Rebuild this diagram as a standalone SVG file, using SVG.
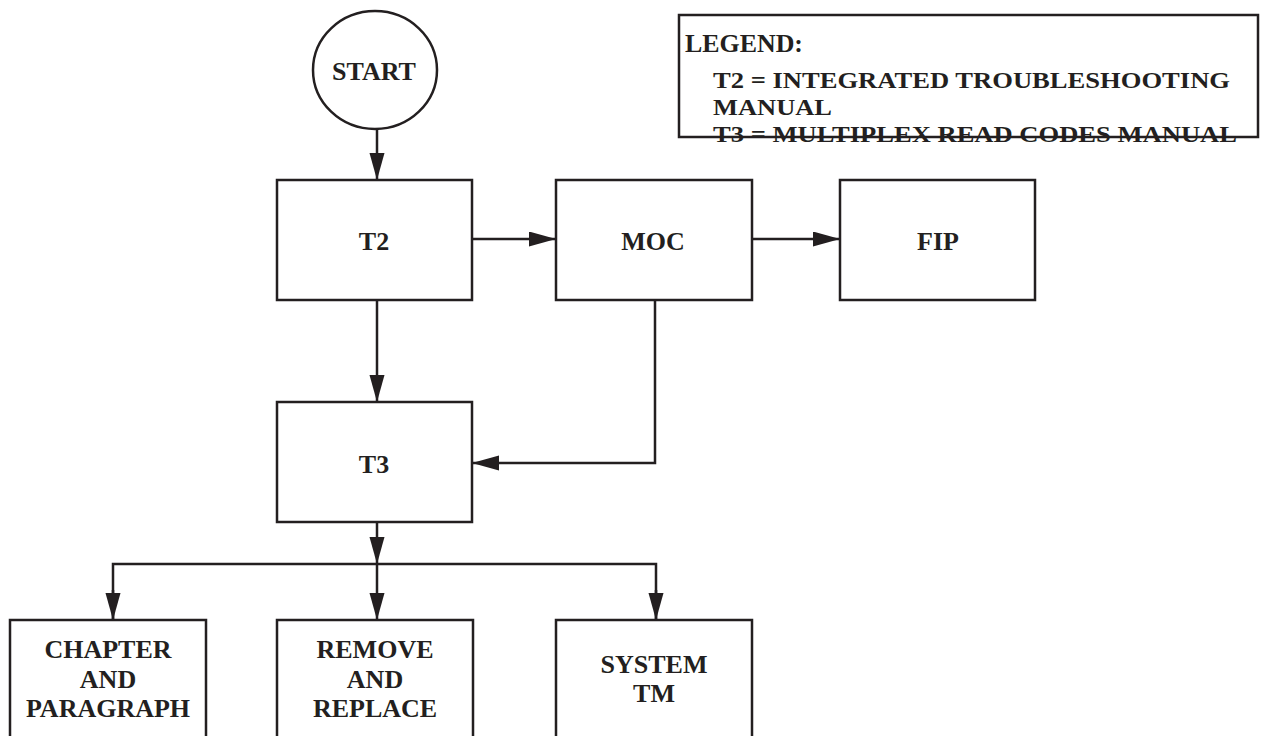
<svg xmlns="http://www.w3.org/2000/svg" width="1261" height="736" viewBox="0 0 1261 736">
<defs>
<style>
.box{fill:#fff;stroke:#231f20;stroke-width:2.5}
.ln{fill:none;stroke:#231f20;stroke-width:2.5}
.t{font-family:"Liberation Serif","Times New Roman",serif;font-weight:bold;font-size:26px;fill:#231f20}
.lg{font-size:24px}
.c{text-anchor:middle}
</style>
<marker id="ah" markerUnits="userSpaceOnUse" markerWidth="28" markerHeight="16" refX="27" refY="7.5" orient="auto">
<path d="M0,0 L27,7.5 L0,15 z" fill="#231f20"/>
</marker>
</defs>
<rect width="1261" height="736" fill="#fff"/>
<g id="connectors">
<line class="ln" x1="377" y1="129" x2="377" y2="180" marker-end="url(#ah)"/>
<line class="ln" x1="472" y1="239" x2="556" y2="239" marker-end="url(#ah)"/>
<line class="ln" x1="752" y1="239" x2="840" y2="239" marker-end="url(#ah)"/>
<line class="ln" x1="377" y1="300" x2="377" y2="402" marker-end="url(#ah)"/>
<polyline class="ln" points="655,300 655,463 472,463" marker-end="url(#ah)"/>
<line class="ln" x1="377" y1="522" x2="377" y2="564" marker-end="url(#ah)"/>
<polyline class="ln" points="113,620 113,564 656,564 656,620"/>
<line class="ln" x1="113" y1="590" x2="113" y2="620" marker-end="url(#ah)"/>
<line class="ln" x1="377" y1="564" x2="377" y2="620" marker-end="url(#ah)"/>
<line class="ln" x1="656" y1="590" x2="656" y2="620" marker-end="url(#ah)"/>
</g>
<g id="start">
<ellipse class="box" cx="375" cy="70" rx="62" ry="59"/>
<text class="t c" x="374" y="80">START</text>
</g>
<g id="t2">
<rect class="box" x="277" y="180" width="195" height="120"/>
<text class="t c" x="374" y="250">T2</text>
</g>
<g id="moc">
<rect class="box" x="556" y="180" width="196" height="120"/>
<text class="t c" x="653" y="250">MOC</text>
</g>
<g id="fip">
<rect class="box" x="840" y="180" width="195" height="120"/>
<text class="t c" x="938" y="250">FIP</text>
</g>
<g id="t3">
<rect class="box" x="277" y="402" width="195" height="120"/>
<text class="t c" x="374" y="473">T3</text>
</g>
<g id="chapter">
<rect class="box" x="10" y="620" width="196" height="130"/>
<text class="t c" x="108" y="658">CHAPTER</text>
<text class="t c" x="108" y="688">AND</text>
<text class="t c" x="108" y="717">PARAGRAPH</text>
</g>
<g id="remove">
<rect class="box" x="277" y="620" width="196" height="130"/>
<text class="t c" x="375" y="658">REMOVE</text>
<text class="t c" x="375" y="688">AND</text>
<text class="t c" x="375" y="717">REPLACE</text>
</g>
<g id="system">
<rect class="box" x="556" y="620" width="196" height="130"/>
<text class="t c" x="654" y="673">SYSTEM</text>
<text class="t c" x="654" y="702">TM</text>
</g>
<g id="legend">
<rect class="box" x="679" y="15" width="579" height="122" stroke-width="2"/>
<text class="t" x="685" y="52" textLength="118" lengthAdjust="spacingAndGlyphs">LEGEND:</text>
<text class="t lg" x="713" y="88" textLength="517" lengthAdjust="spacingAndGlyphs">T2 = INTEGRATED TROUBLESHOOTING</text>
<text class="t lg" x="713" y="115" textLength="119" lengthAdjust="spacingAndGlyphs">MANUAL</text>
<text class="t lg" x="713" y="142" textLength="524" lengthAdjust="spacingAndGlyphs">T3 = MULTIPLEX READ CODES MANUAL</text>
</g>
</svg>
